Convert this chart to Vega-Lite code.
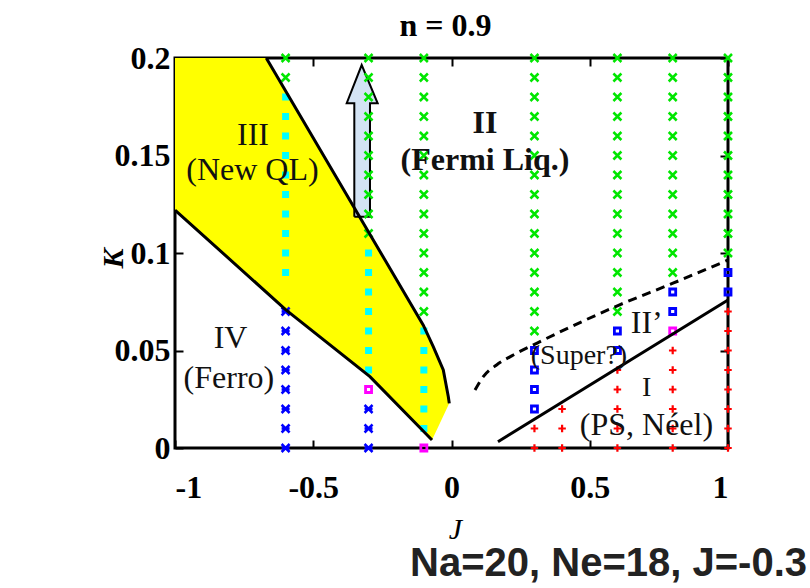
{
  "$schema": "https://vega.github.io/schema/vega-lite/v6.json",
  "width": 553,
  "height": 390,
  "autosize": {"type": "none"},
  "padding": {"left": 175, "top": 58, "right": 82, "bottom": 140},
  "background": "white",
  "view": {"stroke": "black", "strokeWidth": 3},
  "title": {
    "text": "Na=20, Ne=18, J=-0.3",
    "orient": "bottom",
    "anchor": "end",
    "dx": 70,
    "offset": 32,
    "baseline": "alphabetic",
    "font": "Liberation Sans",
    "fontSize": 40,
    "fontWeight": "bold",
    "color": "#222222"
  },
  "config": {
    "axis": {
      "grid": false,
      "domain": false,
      "zindex": 1,
      "tickColor": "black",
      "tickWidth": 2,
      "tickSize": -8,
      "labelColor": "black",
      "labelFont": "Liberation Serif",
      "labelFontWeight": "bold",
      "labelFontSize": 32,
      "titleColor": "black",
      "titleFont": "Liberation Serif"
    }
  },
  "resolve": {"axis": {"x": "independent", "y": "independent"}},
  "datasets": {
    "yellow": [
      {"i": 1, "J": -1, "K": 0.2},
      {"i": 2, "J": -0.67, "K": 0.2},
      {"i": 3, "J": -0.2405, "K": 0.0964},
      {"i": 4, "J": -0.102, "K": 0.063},
      {"i": 5, "J": -0.066, "K": 0.052},
      {"i": 6, "J": -0.0297, "K": 0.04},
      {"i": 7, "J": -0.0115, "K": 0.0263},
      {"i": 8, "J": -0.008, "K": 0.0229},
      {"i": 9, "J": -0.0705, "K": 0.0041},
      {"i": 10, "J": -0.295, "K": 0.0366},
      {"i": 11, "J": -0.6, "K": 0.071},
      {"i": 12, "J": -1, "K": 0.122},
      {"i": 13, "J": -1, "K": 0.2}
    ],
    "arrow": [
      {"i": 1, "J": -0.3515, "K": 0.1186},
      {"i": 2, "J": -0.2948, "K": 0.1186},
      {"i": 3, "J": -0.2948, "K": 0.1768},
      {"i": 4, "J": -0.267, "K": 0.1768},
      {"i": 5, "J": -0.3248, "K": 0.1964},
      {"i": 6, "J": -0.379, "K": 0.1768},
      {"i": 7, "J": -0.3515, "K": 0.1768},
      {"i": 8, "J": -0.3515, "K": 0.1186}
    ],
    "curves": [
      {"c": "upper", "J": -0.67, "K": 0.2},
      {"c": "upper", "J": -0.2405, "K": 0.0964},
      {"c": "upper", "J": -0.102, "K": 0.063},
      {"c": "upper", "J": -0.066, "K": 0.052},
      {"c": "upper", "J": -0.0297, "K": 0.04},
      {"c": "upper", "J": -0.0115, "K": 0.0263},
      {"c": "upper", "J": -0.008, "K": 0.0229},
      {"c": "lower", "J": -1, "K": 0.122},
      {"c": "lower", "J": -0.6, "K": 0.071},
      {"c": "lower", "J": -0.295, "K": 0.0366},
      {"c": "lower", "J": -0.0705, "K": 0.0041},
      {"c": "neel", "J": 0.168, "K": 0.0032},
      {"c": "neel", "J": 1, "K": 0.0759},
      {"c": "super", "J": 0.085, "K": 0.0297},
      {"c": "super", "J": 0.115, "K": 0.0366},
      {"c": "super", "J": 0.163, "K": 0.0426},
      {"c": "super", "J": 0.2236, "K": 0.0477},
      {"c": "super", "J": 0.308, "K": 0.0537},
      {"c": "super", "J": 0.606, "K": 0.0733},
      {"c": "super", "J": 0.801, "K": 0.0845},
      {"c": "super", "J": 1, "K": 0.0964}
    ],
    "pts": [
      {"J": -0.6, "K": 0.2, "p": "II"}, {"J": -0.6, "K": 0.19, "p": "II"},
      {"J": -0.6, "K": 0.18, "p": "III"}, {"J": -0.6, "K": 0.17, "p": "III"}, {"J": -0.6, "K": 0.16, "p": "III"}, {"J": -0.6, "K": 0.15, "p": "III"}, {"J": -0.6, "K": 0.14, "p": "III"},
      {"J": -0.6, "K": 0.13, "p": "III"}, {"J": -0.6, "K": 0.12, "p": "III"}, {"J": -0.6, "K": 0.11, "p": "III"}, {"J": -0.6, "K": 0.1, "p": "III"}, {"J": -0.6, "K": 0.09, "p": "III"},
      {"J": -0.6, "K": 0.07, "p": "IV"}, {"J": -0.6, "K": 0.06, "p": "IV"}, {"J": -0.6, "K": 0.05, "p": "IV"}, {"J": -0.6, "K": 0.04, "p": "IV"},
      {"J": -0.6, "K": 0.03, "p": "IV"}, {"J": -0.6, "K": 0.02, "p": "IV"}, {"J": -0.6, "K": 0.01, "p": "IV"}, {"J": -0.6, "K": 0, "p": "IV"},

      {"J": -0.3, "K": 0.2, "p": "II"}, {"J": -0.3, "K": 0.19, "p": "II"}, {"J": -0.3, "K": 0.18, "p": "II"}, {"J": -0.3, "K": 0.17, "p": "II"}, {"J": -0.3, "K": 0.16, "p": "II"},
      {"J": -0.3, "K": 0.15, "p": "II"}, {"J": -0.3, "K": 0.14, "p": "II"}, {"J": -0.3, "K": 0.13, "p": "II"}, {"J": -0.3, "K": 0.12, "p": "II"}, {"J": -0.3, "K": 0.11, "p": "II"},
      {"J": -0.3, "K": 0.1, "p": "III"}, {"J": -0.3, "K": 0.09, "p": "III"}, {"J": -0.3, "K": 0.08, "p": "III"}, {"J": -0.3, "K": 0.07, "p": "III"}, {"J": -0.3, "K": 0.06, "p": "III"},
      {"J": -0.3, "K": 0.05, "p": "III"}, {"J": -0.3, "K": 0.04, "p": "III"},
      {"J": -0.3, "K": 0.03, "p": "B"},
      {"J": -0.3, "K": 0.02, "p": "IV"}, {"J": -0.3, "K": 0.01, "p": "IV"}, {"J": -0.3, "K": 0, "p": "IV"},

      {"J": -0.1, "K": 0.2, "p": "II"}, {"J": -0.1, "K": 0.19, "p": "II"}, {"J": -0.1, "K": 0.18, "p": "II"}, {"J": -0.1, "K": 0.17, "p": "II"}, {"J": -0.1, "K": 0.16, "p": "II"},
      {"J": -0.1, "K": 0.15, "p": "II"}, {"J": -0.1, "K": 0.14, "p": "II"}, {"J": -0.1, "K": 0.13, "p": "II"}, {"J": -0.1, "K": 0.12, "p": "II"}, {"J": -0.1, "K": 0.11, "p": "II"},
      {"J": -0.1, "K": 0.1, "p": "II"}, {"J": -0.1, "K": 0.09, "p": "II"}, {"J": -0.1, "K": 0.08, "p": "II"}, {"J": -0.1, "K": 0.07, "p": "II"},
      {"J": -0.1, "K": 0.06, "p": "III"}, {"J": -0.1, "K": 0.05, "p": "III"}, {"J": -0.1, "K": 0.04, "p": "III"}, {"J": -0.1, "K": 0.03, "p": "III"}, {"J": -0.1, "K": 0.02, "p": "III"},
      {"J": -0.1, "K": 0.01, "p": "III"},
      {"J": -0.1, "K": 0, "p": "B"},

      {"J": 0.3, "K": 0.2, "p": "II"}, {"J": 0.3, "K": 0.19, "p": "II"}, {"J": 0.3, "K": 0.18, "p": "II"}, {"J": 0.3, "K": 0.17, "p": "II"}, {"J": 0.3, "K": 0.16, "p": "II"},
      {"J": 0.3, "K": 0.15, "p": "II"}, {"J": 0.3, "K": 0.14, "p": "II"}, {"J": 0.3, "K": 0.13, "p": "II"}, {"J": 0.3, "K": 0.12, "p": "II"}, {"J": 0.3, "K": 0.11, "p": "II"},
      {"J": 0.3, "K": 0.1, "p": "II"}, {"J": 0.3, "K": 0.09, "p": "II"}, {"J": 0.3, "K": 0.08, "p": "II"}, {"J": 0.3, "K": 0.07, "p": "II"}, {"J": 0.3, "K": 0.06, "p": "II"},
      {"J": 0.3, "K": 0.05, "p": "S"}, {"J": 0.3, "K": 0.04, "p": "S"}, {"J": 0.3, "K": 0.03, "p": "S"}, {"J": 0.3, "K": 0.02, "p": "S"},
      {"J": 0.3, "K": 0.01, "p": "I"}, {"J": 0.3, "K": 0, "p": "I"},

      {"J": 0.4, "K": 0.02, "p": "I"}, {"J": 0.4, "K": 0.01, "p": "I"}, {"J": 0.4, "K": 0, "p": "I"},

      {"J": 0.6, "K": 0.2, "p": "II"}, {"J": 0.6, "K": 0.19, "p": "II"}, {"J": 0.6, "K": 0.18, "p": "II"}, {"J": 0.6, "K": 0.17, "p": "II"}, {"J": 0.6, "K": 0.16, "p": "II"},
      {"J": 0.6, "K": 0.15, "p": "II"}, {"J": 0.6, "K": 0.14, "p": "II"}, {"J": 0.6, "K": 0.13, "p": "II"}, {"J": 0.6, "K": 0.12, "p": "II"}, {"J": 0.6, "K": 0.11, "p": "II"},
      {"J": 0.6, "K": 0.1, "p": "II"}, {"J": 0.6, "K": 0.09, "p": "II"}, {"J": 0.6, "K": 0.08, "p": "II"}, {"J": 0.6, "K": 0.07, "p": "II"},
      {"J": 0.6, "K": 0.06, "p": "S"}, {"J": 0.6, "K": 0.05, "p": "S"},
      {"J": 0.6, "K": 0.04, "p": "I"}, {"J": 0.6, "K": 0.03, "p": "I"}, {"J": 0.6, "K": 0.02, "p": "I"}, {"J": 0.6, "K": 0.01, "p": "I"}, {"J": 0.6, "K": 0, "p": "I"},

      {"J": 0.8, "K": 0.2, "p": "II"}, {"J": 0.8, "K": 0.19, "p": "II"}, {"J": 0.8, "K": 0.18, "p": "II"}, {"J": 0.8, "K": 0.17, "p": "II"}, {"J": 0.8, "K": 0.16, "p": "II"},
      {"J": 0.8, "K": 0.15, "p": "II"}, {"J": 0.8, "K": 0.14, "p": "II"}, {"J": 0.8, "K": 0.13, "p": "II"}, {"J": 0.8, "K": 0.12, "p": "II"}, {"J": 0.8, "K": 0.11, "p": "II"},
      {"J": 0.8, "K": 0.1, "p": "II"}, {"J": 0.8, "K": 0.09, "p": "II"},
      {"J": 0.8, "K": 0.08, "p": "S"}, {"J": 0.8, "K": 0.07, "p": "S"},
      {"J": 0.8, "K": 0.06, "p": "B"},
      {"J": 0.8, "K": 0.05, "p": "I"}, {"J": 0.8, "K": 0.04, "p": "I"}, {"J": 0.8, "K": 0.03, "p": "I"}, {"J": 0.8, "K": 0.02, "p": "I"}, {"J": 0.8, "K": 0.01, "p": "I"},
      {"J": 0.8, "K": 0, "p": "I"},

      {"J": 1, "K": 0.2, "p": "II"}, {"J": 1, "K": 0.19, "p": "II"}, {"J": 1, "K": 0.18, "p": "II"}, {"J": 1, "K": 0.17, "p": "II"}, {"J": 1, "K": 0.16, "p": "II"},
      {"J": 1, "K": 0.15, "p": "II"}, {"J": 1, "K": 0.14, "p": "II"}, {"J": 1, "K": 0.13, "p": "II"}, {"J": 1, "K": 0.12, "p": "II"}, {"J": 1, "K": 0.11, "p": "II"},
      {"J": 1, "K": 0.1, "p": "II"},
      {"J": 1, "K": 0.09, "p": "S"}, {"J": 1, "K": 0.08, "p": "S"},
      {"J": 1, "K": 0.07, "p": "I"}, {"J": 1, "K": 0.06, "p": "I"}, {"J": 1, "K": 0.05, "p": "I"}, {"J": 1, "K": 0.04, "p": "I"}, {"J": 1, "K": 0.03, "p": "I"},
      {"J": 1, "K": 0.02, "p": "I"}, {"J": 1, "K": 0.01, "p": "I"}, {"J": 1, "K": 0, "p": "I"}
    ],
    "labels": [
      {"g": "n32", "t": "III", "J": -0.718, "K": 0.1554},
      {"g": "n32", "t": "(New QL)", "J": -0.72, "K": 0.1374},
      {"g": "n32", "t": "IV", "J": -0.799, "K": 0.0511},
      {"g": "n32", "t": "(Ferro)", "J": -0.805, "K": 0.0306},
      {"g": "n32", "t": "II’", "J": 0.706, "K": 0.0588},
      {"g": "n32", "t": "(PS, Néel)", "J": 0.705, "K": 0.0067},
      {"g": "b32", "t": "II", "J": 0.121, "K": 0.1617},
      {"g": "b32", "t": "(Fermi Liq.)", "J": 0.121, "K": 0.1426},
      {"g": "n28", "t": "(Super?)", "J": 0.461, "K": 0.0431},
      {"g": "n28", "t": "I", "J": 0.706, "K": 0.0267}
    ]
  },
  "layer": [
    {
      "data": {"name": "yellow"},
      "mark": {"type": "line", "color": "#ffff00", "fill": "#ffff00", "strokeWidth": 0},
      "encoding": {
        "x": {
          "field": "J", "type": "quantitative",
          "scale": {"domain": [-1, 1], "nice": false, "zero": false},
          "axis": {
            "orient": "bottom",
            "values": [-1, -0.5, 0, 0.5, 1],
            "format": "~g",
            "labelExpr": "replace(datum.label, '\u2212', '-')",
            "labelPadding": 32,
            "title": "J",
            "titleFontSize": 30,
            "titleFontStyle": "italic",
            "titleFontWeight": "normal",
            "titleX": 280,
            "titleY": 90,
            "titleAlign": "center",
            "titleBaseline": "alphabetic"
          }
        },
        "y": {
          "field": "K", "type": "quantitative",
          "scale": {"domain": [0, 0.2], "nice": false, "zero": false},
          "axis": {
            "orient": "left",
            "values": [0, 0.05, 0.1, 0.15, 0.2],
            "format": "~g",
            "labelPadding": 13,
            "title": "K",
            "titleFontSize": 30,
            "titleFontStyle": "italic",
            "titleFontWeight": "bold",
            "titleAngle": 270,
            "titleX": -53,
            "titleY": 200,
            "titleAlign": "center",
            "titleBaseline": "alphabetic"
          }
        },
        "order": {"field": "i", "type": "quantitative"}
      }
    },
    {
      "data": {"name": "arrow"},
      "mark": {"type": "line", "color": "black", "fill": "#d3e3f4", "strokeWidth": 2},
      "encoding": {
        "x": {
          "field": "J", "type": "quantitative",
          "scale": {"domain": [-1, 1], "nice": false, "zero": false},
          "axis": {
            "orient": "top",
            "values": [-1, -0.5, 0, 0.5, 1],
            "labels": false,
            "title": "n = 0.9",
            "titleFontSize": 32,
            "titleFontWeight": "bold",
            "titleX": 270,
            "titleY": -23,
            "titleAlign": "center",
            "titleBaseline": "alphabetic"
          }
        },
        "y": {
          "field": "K", "type": "quantitative",
          "scale": {"domain": [0, 0.2], "nice": false, "zero": false},
          "axis": {
            "orient": "right",
            "values": [0, 0.05, 0.1, 0.15, 0.2],
            "labels": false,
            "title": null
          }
        },
        "order": {"field": "i", "type": "quantitative"}
      }
    },
    {
      "data": {"name": "pts"},
      "transform": [{"filter": "datum.p == 'III'"}],
      "mark": {"type": "point", "shape": "square", "filled": true, "color": "#00ffff", "opacity": 1, "size": 49},
      "encoding": {
        "x": {"field": "J", "type": "quantitative", "scale": {"domain": [-1, 1], "nice": false, "zero": false}, "axis": null},
        "y": {"field": "K", "type": "quantitative", "scale": {"domain": [0, 0.2], "nice": false, "zero": false}, "axis": null}
      }
    },
    {
      "data": {"name": "pts"},
      "transform": [{"filter": "datum.p == 'II'"}],
      "mark": {"type": "point", "shape": "M-1,-1L1,1M-1,1L1,-1", "filled": false, "color": "#00e600", "opacity": 1, "strokeWidth": 2.5, "size": 64},
      "encoding": {
        "x": {"field": "J", "type": "quantitative", "scale": {"domain": [-1, 1], "nice": false, "zero": false}, "axis": null},
        "y": {"field": "K", "type": "quantitative", "scale": {"domain": [0, 0.2], "nice": false, "zero": false}, "axis": null}
      }
    },
    {
      "data": {"name": "pts"},
      "transform": [{"filter": "datum.p == 'IV'"}],
      "mark": {"type": "point", "shape": "M-1,-1L1,1M-1,1L1,-1M-1,0L1,0", "filled": false, "color": "#0000ff", "opacity": 1, "strokeWidth": 2.5, "size": 64},
      "encoding": {
        "x": {"field": "J", "type": "quantitative", "scale": {"domain": [-1, 1], "nice": false, "zero": false}, "axis": null},
        "y": {"field": "K", "type": "quantitative", "scale": {"domain": [0, 0.2], "nice": false, "zero": false}, "axis": null}
      }
    },
    {
      "data": {"name": "pts"},
      "transform": [{"filter": "datum.p == 'S'"}],
      "mark": {"type": "point", "shape": "square", "filled": false, "color": "#0000ff", "opacity": 1, "strokeWidth": 2.8, "size": 36},
      "encoding": {
        "x": {"field": "J", "type": "quantitative", "scale": {"domain": [-1, 1], "nice": false, "zero": false}, "axis": null},
        "y": {"field": "K", "type": "quantitative", "scale": {"domain": [0, 0.2], "nice": false, "zero": false}, "axis": null}
      }
    },
    {
      "data": {"name": "pts"},
      "transform": [{"filter": "datum.p == 'B'"}],
      "mark": {"type": "point", "shape": "square", "filled": false, "color": "#ff00ff", "opacity": 1, "strokeWidth": 2.8, "size": 36},
      "encoding": {
        "x": {"field": "J", "type": "quantitative", "scale": {"domain": [-1, 1], "nice": false, "zero": false}, "axis": null},
        "y": {"field": "K", "type": "quantitative", "scale": {"domain": [0, 0.2], "nice": false, "zero": false}, "axis": null}
      }
    },
    {
      "data": {"name": "pts"},
      "transform": [{"filter": "datum.p == 'I'"}],
      "mark": {"type": "point", "shape": "M-1,0L1,0M0,-1L0,1", "filled": false, "color": "#ff0000", "opacity": 1, "strokeWidth": 2.2, "size": 56},
      "encoding": {
        "x": {"field": "J", "type": "quantitative", "scale": {"domain": [-1, 1], "nice": false, "zero": false}, "axis": null},
        "y": {"field": "K", "type": "quantitative", "scale": {"domain": [0, 0.2], "nice": false, "zero": false}, "axis": null}
      }
    },
    {
      "data": {"name": "curves"},
      "transform": [{"filter": "datum.c != 'super'"}],
      "mark": {"type": "line", "color": "black", "strokeWidth": 3},
      "encoding": {
        "x": {"field": "J", "type": "quantitative", "scale": {"domain": [-1, 1], "nice": false, "zero": false}, "axis": null},
        "y": {"field": "K", "type": "quantitative", "scale": {"domain": [0, 0.2], "nice": false, "zero": false}, "axis": null},
        "detail": {"field": "c"}
      }
    },
    {
      "data": {"name": "curves"},
      "transform": [{"filter": "datum.c == 'super'"}],
      "mark": {"type": "line", "color": "black", "strokeWidth": 3, "strokeDash": [9, 6], "interpolate": "monotone"},
      "encoding": {
        "x": {"field": "J", "type": "quantitative", "scale": {"domain": [-1, 1], "nice": false, "zero": false}, "axis": null},
        "y": {"field": "K", "type": "quantitative", "scale": {"domain": [0, 0.2], "nice": false, "zero": false}, "axis": null}
      }
    },
    {
      "data": {"name": "labels"},
      "transform": [{"filter": "datum.g == 'n32'"}],
      "mark": {"type": "text", "font": "Liberation Serif", "fontSize": 32, "align": "center", "baseline": "alphabetic", "color": "#111111"},
      "encoding": {
        "x": {"field": "J", "type": "quantitative", "scale": {"domain": [-1, 1], "nice": false, "zero": false}, "axis": null},
        "y": {"field": "K", "type": "quantitative", "scale": {"domain": [0, 0.2], "nice": false, "zero": false}, "axis": null},
        "text": {"field": "t"}
      }
    },
    {
      "data": {"name": "labels"},
      "transform": [{"filter": "datum.g == 'b32'"}],
      "mark": {"type": "text", "font": "Liberation Serif", "fontSize": 32, "fontWeight": "bold", "align": "center", "baseline": "alphabetic", "color": "#111111"},
      "encoding": {
        "x": {"field": "J", "type": "quantitative", "scale": {"domain": [-1, 1], "nice": false, "zero": false}, "axis": null},
        "y": {"field": "K", "type": "quantitative", "scale": {"domain": [0, 0.2], "nice": false, "zero": false}, "axis": null},
        "text": {"field": "t"}
      }
    },
    {
      "data": {"name": "labels"},
      "transform": [{"filter": "datum.g == 'n28'"}],
      "mark": {"type": "text", "font": "Liberation Serif", "fontSize": 28, "align": "center", "baseline": "alphabetic", "color": "#111111"},
      "encoding": {
        "x": {"field": "J", "type": "quantitative", "scale": {"domain": [-1, 1], "nice": false, "zero": false}, "axis": null},
        "y": {"field": "K", "type": "quantitative", "scale": {"domain": [0, 0.2], "nice": false, "zero": false}, "axis": null},
        "text": {"field": "t"}
      }
    }
  ]
}
